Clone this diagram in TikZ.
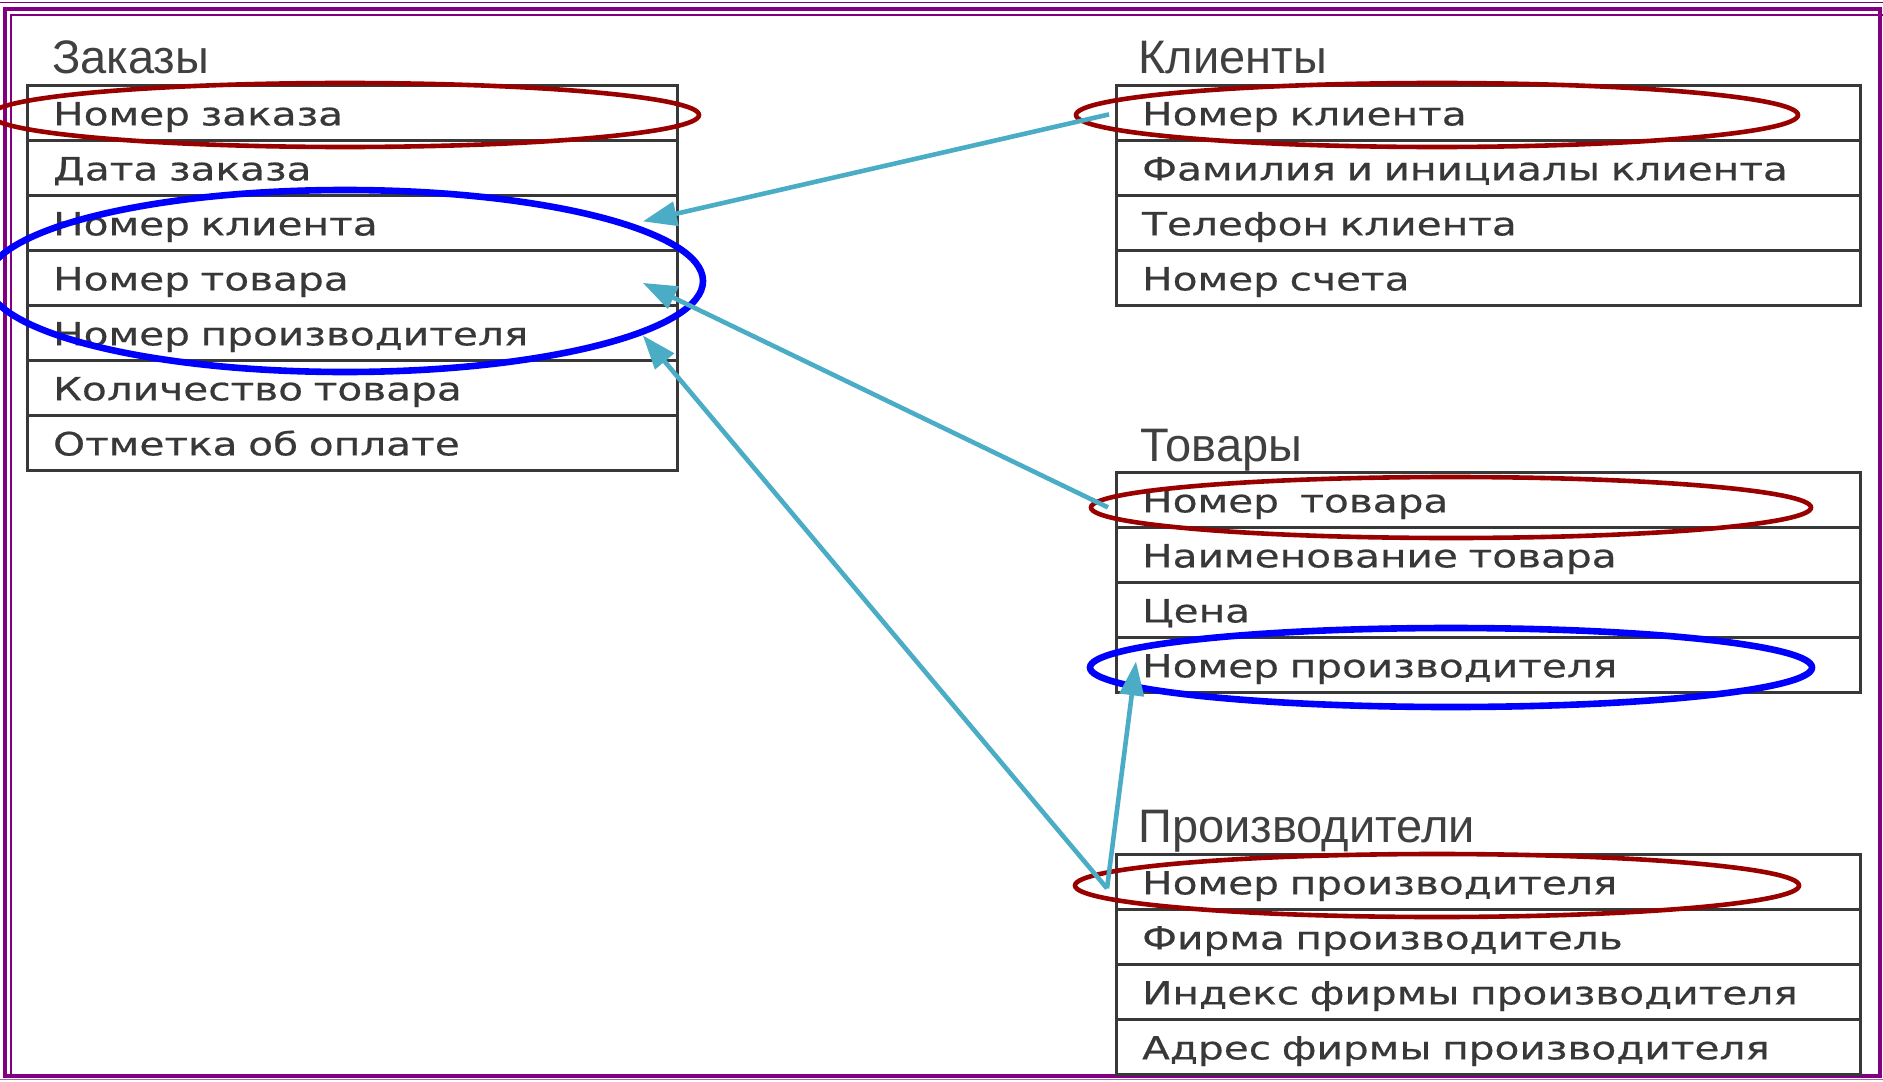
\documentclass[tikz,border=0pt]{standalone}
\usepackage{fontspec}
\usetikzlibrary{arrows.meta,calc}
\newfontfamily\fieldfont[FakeStretch=1.27,FakeBold=0.5]{DejaVu Sans}
\newfontfamily\titlefont{Liberation Sans}
\definecolor{framepurple}{RGB}{128,0,128}
\definecolor{keyred}{RGB}{153,0,0}
\definecolor{fkblue}{RGB}{0,0,255}
\definecolor{linkcyan}{RGB}{75,172,198}
\tikzset{
  field/.style={draw=black!78, line width=1.4pt, anchor=north west, inner xsep=12.85pt, inner ysep=0pt,
    text height=20pt, text depth=7.5pt, align=left, text=black!78, font={\fieldfont\fontsize{16pt}{19pt}\selectfont}},
  ordfield/.style={field, text width=299.3pt},
  reffield/.style={field, text width=346.3pt},
  tabtitle/.style={anchor=base west, inner sep=0pt, text=black!75, font={\titlefont\fontsize{23.5pt}{28pt}\selectfont}},
  pkring/.style={draw=keyred, line width=2.3pt},
  fkring/.style={draw=fkblue, line width=3.3pt},
  link/.style={draw=linkcyan, line width=2.3pt, -{Triangle[length=17pt,width=12pt]}}
}
\begin{document}
\begin{tikzpicture}[x=5pt,y=5pt]
\useasboundingbox (0,0) rectangle (188.3,-108.1);
\draw[framepurple, line width=0.65pt] (0,-0.27) -- (188.3,-0.27);
\draw[framepurple, line width=2pt] (0.47,-0.87) rectangle (188.0,-107.6);
\draw[framepurple, line width=1pt] (1.05,-107.6) -- (1.05,-1.55) -- (188.3,-1.55);
\draw[framepurple!60, line width=0.75pt] (0,-107.95) -- (188.3,-107.95);

\node[tabtitle] (ordtitle) at (5.17,-7.33) {Заказы};
\node[ordfield] (ord1) at (2.6,-8.4) {Номер заказа};
\node[ordfield] (ord2) at (2.6,-13.9) {Дата заказа};
\node[ordfield] (ord3) at (2.6,-19.4) {Номер клиента};
\node[ordfield] (ord4) at (2.6,-24.9) {Номер товара};
\node[ordfield] (ord5) at (2.6,-30.4) {Номер производителя};
\node[ordfield] (ord6) at (2.6,-35.9) {Количество товара};
\node[ordfield] (ord7) at (2.6,-41.4) {Отметка об оплате};

\node[tabtitle] (cltitle) at (113.8,-7.33) {Клиенты};
\node[reffield] (cl1) at (111.5,-8.4) {Номер клиента};
\node[reffield] (cl2) at (111.5,-13.9) {Фамилия и инициалы клиента};
\node[reffield] (cl3) at (111.5,-19.4) {Телефон клиента};
\node[reffield] (cl4) at (111.5,-24.9) {Номер счета};

\node[tabtitle] (gdtitle) at (114.0,-46.1) {Товары};
\node[reffield] (gd1) at (111.5,-47.1) {Номер\ \ товара};
\node[reffield] (gd2) at (111.5,-52.6) {Наименование товара};
\node[reffield] (gd3) at (111.5,-58.1) {Цена};
\node[reffield] (gd4) at (111.5,-63.6) {Номер производителя};

\node[tabtitle] (mftitle) at (113.8,-84.2) {Производители};
\node[reffield] (mf1) at (111.5,-85.3) {Номер производителя};
\node[reffield] (mf2) at (111.5,-90.8) {Фирма производитель};
\node[reffield] (mf3) at (111.5,-96.3) {Индекс фирмы производителя};
\node[reffield] (mf4) at (111.5,-101.8) {Адрес фирмы производителя};

\draw[pkring] (34.5,-11.5) ellipse [x radius=35.4, y radius=3.2];
\draw[fkring] (34.5,-28.1) ellipse [x radius=35.8, y radius=9.1];
\draw[pkring] (143.7,-11.5) ellipse [x radius=36.1, y radius=3.2];
\draw[pkring] (145.1,-50.75) ellipse [x radius=36.0, y radius=3.05];
\draw[fkring] (145.1,-66.75) ellipse [x radius=36.1, y radius=3.95];
\draw[pkring] (143.7,-88.55) ellipse [x radius=36.2, y radius=3.15];

\path[link] ($(cl1.west)+(-0.6,-0.15)$) -- ($(ord3.east)+(-3.6,0.15)$);
\path[link] ($(gd1.west)+(-0.7,-0.75)$) -- ($(ord4.east)+(-3.6,-0.5)$);
\path[link] ($(mf1.west)+(-0.8,-0.65)$) -- ($(ord5.east)+(-3.6,-0.25)$);
\path[link] ($(mf1.west)+(-0.8,-0.65)$) -- ($(gd4.west)+(2.1,0.35)$);
\end{tikzpicture}
\end{document}
